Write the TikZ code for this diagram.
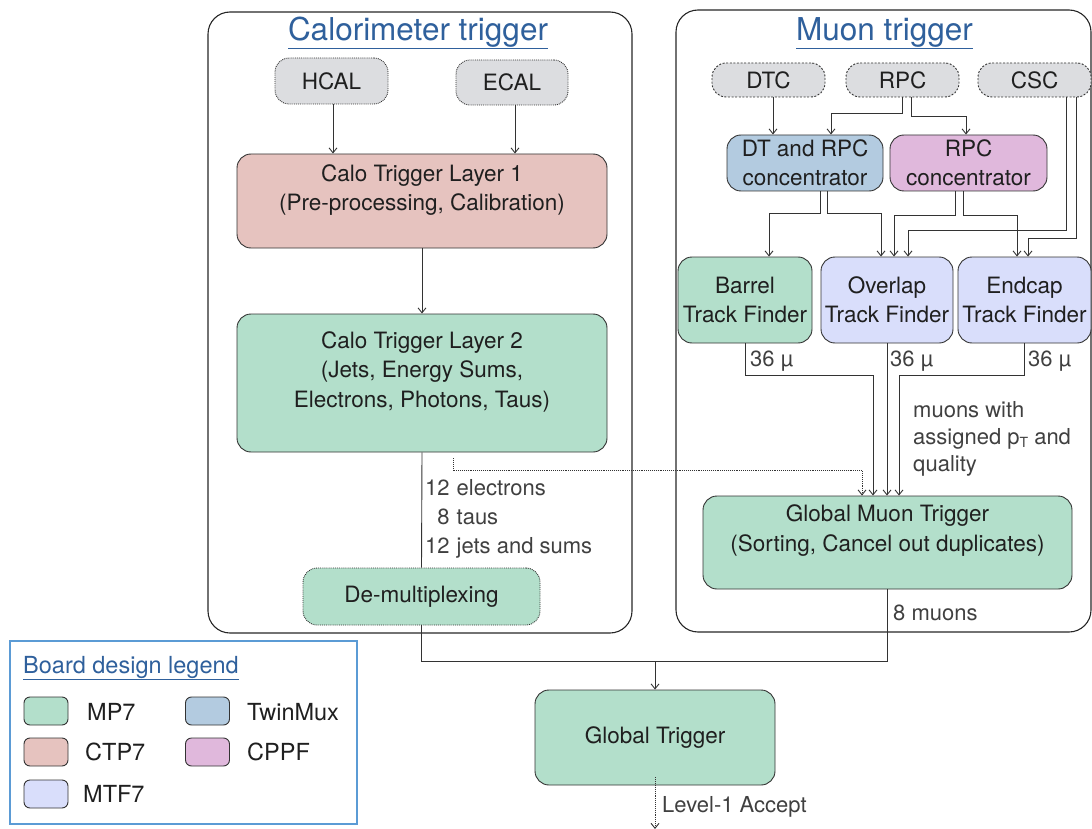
\documentclass[tikz,border=0pt]{standalone}
\usepackage{fontspec}
\setmainfont{TeX Gyre Heros}
\usetikzlibrary{arrows.meta,positioning}

\definecolor{mpgreen}{HTML}{B3DFCB}
\definecolor{ctppink}{HTML}{E6C3BF}
\definecolor{twinblue}{HTML}{B3CBE0}
\definecolor{cppfpurple}{HTML}{E0B8DC}
\definecolor{mtflav}{HTML}{D9DEFB}
\definecolor{detgray}{HTML}{DCDDE0}
\definecolor{titleblue}{HTML}{2F609C}
\definecolor{legendframe}{HTML}{5B9BD5}
\definecolor{linecol}{HTML}{333333}

\tikzset{
  x=1pt, y=-1pt,
  base/.style={font=\fontsize{22.5}{29.5}\selectfont, text=black!88},
  board/.style={draw=linecol, line width=0.9pt, rounded corners=14pt,
    inner sep=0pt, align=center, base},
  detector/.style={board, densely dotted, fill=detgray},
  txt/.style={base, inner sep=0pt, align=center},
  lbl/.style={font=\fontsize{22}{28}\selectfont, inner sep=0pt, align=left, text=black!75},
  leglbl/.style={font=\fontsize{23.5}{28}\selectfont, inner sep=0pt, text=black!88},
  group/.style={draw=black!85, line width=1.1pt, rounded corners=22pt},
  heading/.style={font=\fontsize{31.5}{36}\selectfont, text=titleblue, inner sep=0pt},
  conn/.style={draw=linecol, line width=0.9pt},
  arr/.style={conn, -{Straight Barb[length=5pt,width=8pt]}},
  swatch/.style={draw=black!80, line width=0.9pt, rounded corners=6pt,
    minimum width=44pt, minimum height=28pt, inner sep=0pt},
}

\begin{document}
\begin{tikzpicture}
\useasboundingbox (0,0) rectangle (1092,829);

% ---------- group frames ----------
\draw[group] (208,12) rectangle (632,633);
\draw[group] (676,10) rectangle (1091,632);
\node[heading] (calotitle) at (418,33) {\underline{Calorimeter trigger}};
\node[heading] (muontitle) at (884.5,33) {\underline{Muon trigger}};

% ---------- calorimeter trigger ----------
\node[detector, minimum width=113pt, minimum height=46pt] (hcal) at (331.5,81) {HCAL};
\node[detector, minimum width=112pt, minimum height=45pt] (ecal) at (512,82.5) {ECAL};

\node[board, fill=ctppink, minimum width=370pt, minimum height=94pt] (l1) at (422,201) {};
\node[txt] (l1t) at (422,190) {Calo Trigger Layer 1\\(Pre-processing, Calibration)};

\node[board, fill=mpgreen, minimum width=370pt, minimum height=138pt] (l2) at (422,383) {};
\node[txt] (l2t) at (422,371.5) {Calo Trigger Layer 2\\(Jets, Energy Sums,\\Electrons, Photons, Taus)};

\node[board, fill=mpgreen, densely dotted, minimum width=237pt, minimum height=57pt] (demux) at (421.5,596.5) {De-multiplexing};

\draw[arr] ([xshift=1.5pt]hcal.south) -- ([xshift=1.5pt]hcal.south |- l1.north);
\draw[arr] ([xshift=3pt]ecal.south) -- ([xshift=3pt]ecal.south |- l1.north);
\draw[arr] (l1.south) -- (l2.north);
\draw[conn] (l2.south) -- (demux.north);

\node[lbl, anchor=west] (calocount) at (425,519)
  {\begin{tabular}{@{}r@{\hspace{7pt}}l@{}}
    12 & electrons\\[1pt]
    8 & taus\\[1pt]
    12 & jets and sums
   \end{tabular}};

% ---------- muon trigger ----------
\node[detector, dash pattern=on 2pt off 1.6pt, minimum width=113pt, minimum height=34pt] (dtc) at (768.5,80) {DTC};
\node[detector, dash pattern=on 2pt off 1.6pt, minimum width=113pt, minimum height=34pt] (rpc) at (902.5,80) {RPC};
\node[detector, dash pattern=on 2pt off 1.6pt, minimum width=113pt, minimum height=34pt] (csc) at (1034.5,80) {CSC};

\node[board, fill=twinblue, minimum width=156pt, minimum height=56pt] (dtrpc) at (805,163) {DT and RPC\\concentrator};
\node[board, fill=cppfpurple, minimum width=157pt, minimum height=56pt] (rpcc) at (968.5,163) {RPC\\concentrator};

\node[board, fill=mpgreen, minimum width=134pt, minimum height=86pt] (barrel) at (745,300) {Barrel\\Track Finder};
\node[board, fill=mtflav, minimum width=132pt, minimum height=86pt] (overlap) at (887,300) {Overlap\\Track Finder};
\node[board, fill=mtflav, minimum width=133pt, minimum height=86pt] (endcap) at (1024.5,300) {Endcap\\Track Finder};

\node[board, fill=mpgreen, minimum width=369pt, minimum height=93pt] (gmt) at (887.5,542.5) {};
\node[txt] (gmtt) at (887.5,530.5) {Global Muon Trigger\\(Sorting, Cancel out duplicates)};

% detector links into the concentrators
\draw[arr] ([xshift=4.5pt]dtc.south) -- ([xshift=4.5pt]dtc.south |- dtrpc.north);
\draw[arr] (rpc.south) -- ++(0,16) -| ([xshift=26pt]dtrpc.north);
\draw[arr] ([xshift=9pt]rpc.south) -- ++(0,19) -| ([xshift=-2.5pt]rpcc.north);

% concentrators and CSC into the track finders
\draw[arr] ([xshift=15pt]dtrpc.south) -- ++(0,22) -| ([xshift=24pt]barrel.north);
\draw[arr] ([xshift=22pt]dtrpc.south) -- ++(0,22) -| ([xshift=-6pt]overlap.north);
\draw[arr] ([xshift=-13.5pt]rpcc.south) -- ++(0,24) -| ([xshift=7pt]overlap.north);
\draw[arr] ([xshift=-5.5pt]rpcc.south) -- ++(0,24) -| ([xshift=-7.5pt]endcap.north);
\draw[arr] ([xshift=32pt]csc.south) -- ++(0,133) -| ([xshift=21pt]overlap.north);
\draw[arr] ([xshift=42pt]csc.south) -- ++(0,141) -| ([xshift=3.5pt]endcap.north);

% track finders into the global muon trigger
\draw[arr] (barrel.south) -- ++(0,32) -| ([xshift=-14.5pt]gmt.north);
\draw[arr] (overlap.south) -- (overlap.south |- gmt.north);
\draw[arr] (endcap.south) -- ++(0,32) -| ([xshift=11.5pt]gmt.north);

\node[lbl, anchor=west] (mu1) at (750,361) {36 µ};
\node[lbl, anchor=west] (mu2) at (890,361) {36 µ};
\node[lbl, anchor=west] (mu3) at (1028,361) {36 µ};

\node[lbl, anchor=west] (muq) at (913,439)
  {muons with\\[-1pt]assigned p\raisebox{-3pt}{\fontsize{14}{14}\selectfont T} and\\[-1pt]quality};

% calorimeter objects passed to the muon trigger
\draw[conn, densely dotted, -{Straight Barb[length=5pt,width=8pt]}]
  ([xshift=31pt,yshift=-6pt]l2.south) -- ++(0,12) -| ([xshift=-25.5pt]gmt.north);

\node[lbl, anchor=west] (eightmu) at (893,613) {8 muons};

% ---------- global trigger ----------
\node[board, fill=mpgreen, minimum width=240pt, minimum height=95pt] (gt) at (655,737.5) {Global Trigger};

\draw[conn] (demux.south) -- ++(0,36) -| (gmt.south);
\draw[arr] (gt.north |- 0,661) -- (gt.north);

\coordinate (l1a) at (655,829);
\draw[conn, densely dotted, -{Straight Barb[length=5pt,width=8pt]}] ([yshift=8pt]gt.south) -- (l1a);
\node[lbl, anchor=west] (l1acc) at (662,807) {Level-1 Accept};

% ---------- legend ----------
\draw[draw=legendframe, line width=1.6pt] (10,641) rectangle (357,824);
\node[leglbl, text=titleblue, anchor=west] (legtitle) at (23,668) {\underline{Board design legend}};

\node[swatch, fill=mpgreen] (swmp7) at (46,711) {};
\node[leglbl, anchor=west] (lbmp7) at (87,712) {MP7};
\node[swatch, fill=twinblue] (swtwin) at (207.5,711) {};
\node[leglbl, anchor=west] (lbtwin) at (247,712) {TwinMux};
\node[swatch, fill=ctppink] (swctp) at (46,752) {};
\node[leglbl, anchor=west] (lbctp) at (85,752) {CTP7};
\node[swatch, fill=cppfpurple] (swcppf) at (207.5,752) {};
\node[leglbl, anchor=west] (lbcppf) at (247,752) {CPPF};
\node[swatch, fill=mtflav] (swmtf) at (46,794) {};
\node[leglbl, anchor=west] (lbmtf) at (83,794) {MTF7};
\end{tikzpicture}
\end{document}
